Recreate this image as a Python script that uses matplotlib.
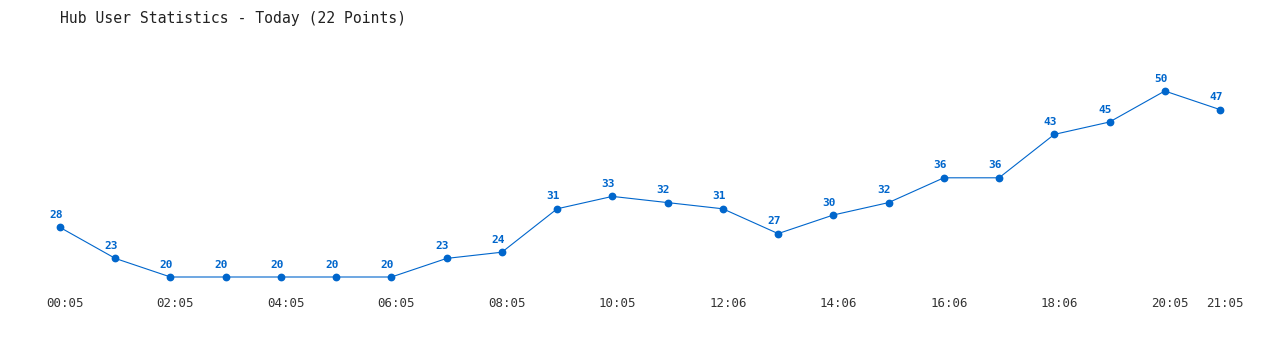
import matplotlib
matplotlib.use("Agg")
import matplotlib.pyplot as plt
import matplotlib.transforms as mtrans

times = ["00:05", "01:05", "02:05", "03:05", "04:05", "05:05", "06:05", "07:05",
         "08:05", "09:05", "10:05", "11:05", "12:06", "13:06", "14:06", "15:06",
         "16:06", "17:06", "18:06", "19:06", "20:05", "21:05"]
users = [28, 23, 20, 20, 20, 20, 20, 23, 24, 31, 33, 32, 31, 27, 30, 32, 36, 36, 43, 45, 50, 47]
tick_idx = [0, 2, 4, 6, 8, 10, 12, 14, 16, 18, 20, 21]
title = "Hub User Statistics - Today (22 Points)"

color = "#0066cc"
W, H = 1280, 350
fig = plt.figure(figsize=(W / 100, H / 100), dpi=100)
# axes from x px 60..1220, y px 40..290
ax = fig.add_axes([60 / W, (H - 290) / H, 1160 / W, 250 / H])
x = list(range(len(users)))
ax.plot(x, users, color=color, lw=0.8, marker="o", ms=4.6, mec=color, mfc=color, clip_on=False)
for xi, v in zip(x, users):
    ax.annotate(str(v), (xi, v), xytext=(-3, 5.3), textcoords="offset points",
                ha="center", va="bottom", color=color, fontsize=8,
                fontweight="bold", family="DejaVu Sans Mono")
ax.set_xlim(0, 21)
ax.set_ylim(20 - 13 / 6.2, 20 + 237 / 6.2)
ax.set_xticks([])
ax.set_yticks([])
tick_tr = (mtrans.blended_transform_factory(ax.transData, ax.transAxes)
           + mtrans.ScaledTranslation(5 / 100, -13.5 / 100, fig.dpi_scale_trans))
for i in tick_idx:
    ax.text(i, 0, times[i], transform=tick_tr, ha="center", va="center",
            family="DejaVu Sans Mono", fontsize=9, color="#333333", clip_on=False)
for s in ax.spines.values():
    s.set_visible(False)
fig.text(60 / W, 1 - 18 / H, title, family="DejaVu Sans Mono", fontsize=10.6,
         color="#222222", ha="left", va="center")
fig.savefig("out.png", dpi=100)
